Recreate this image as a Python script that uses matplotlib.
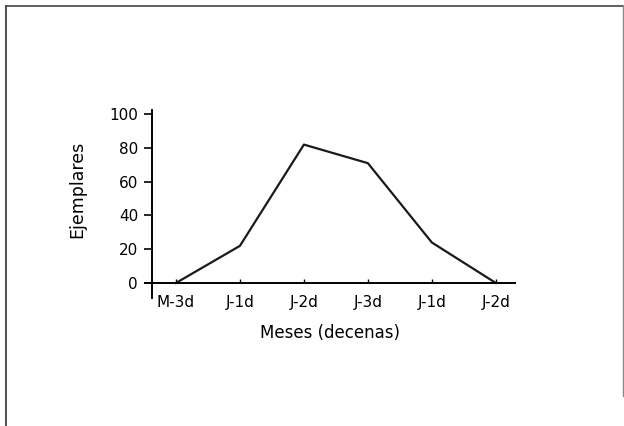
import matplotlib
matplotlib.use("Agg")
import matplotlib.pyplot as plt
from matplotlib.lines import Line2D

categories = ["M-3d", "J-1d", "J-2d", "J-3d", "J-1d", "J-2d"]
values = [0, 22, 82, 71, 24, 0]
yticks = [0, 20, 40, 60, 80, 100]

plt.rcParams['font.family'] = ['DejaVu Sans']

fig = plt.figure(figsize=(6.24, 4.26), dpi=100)
ax = fig.add_axes([145/624, (426-298)/426, (515-145)/624, (298-110)/426])

x = list(range(len(categories)))
ax.plot(x, values, color="#1a1a1a", lw=1.6)

ax.set_xlim(-0.484, 5.3)
ax.set_ylim(-8.9, 102.5)

for s in ["top", "right"]:
    ax.spines[s].set_visible(False)
ax.spines["left"].set_position(("data", -0.375))
ax.spines["bottom"].set_position(("data", 0))
ax.spines["left"].set_linewidth(1.4)
ax.spines["bottom"].set_linewidth(1.4)

ax.set_yticks(yticks)
ax.set_yticklabels([str(v) for v in yticks], fontsize=11)
ax.tick_params(axis="y", direction="out", length=6, width=1.2, pad=4)
ax.set_xticks(x)
ax.set_xticklabels(categories, fontsize=11)
ax.tick_params(axis="x", direction="in", length=3, width=1.0, pad=9)

ax.set_ylabel("Ejemplares", fontsize=12.5)
ax.yaxis.set_label_coords(-0.16, 0.58)
ax.set_xlabel("Meses (decenas)", fontsize=12, labelpad=10)

# outer frame
fig.add_artist(Line2D([6/624, 6/624], [0, 420/426], transform=fig.transFigure, color="#333333", lw=1.2))
fig.add_artist(Line2D([6/624, 623/624], [420/426, 420/426], transform=fig.transFigure, color="#444444", lw=1.2))
fig.add_artist(Line2D([622.5/624, 622.5/624], [30/426, 420/426], transform=fig.transFigure, color="#888888", lw=1.0))

fig.savefig("out.png", dpi=100)
